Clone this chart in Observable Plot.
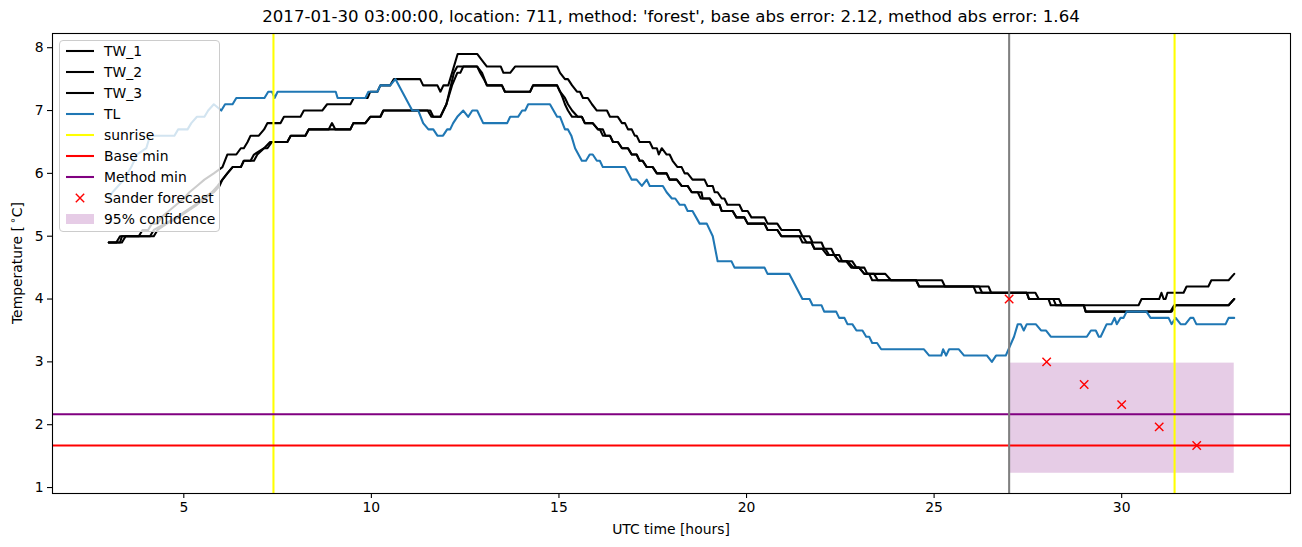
<!DOCTYPE html>
<html><head><meta charset="utf-8">
<script src="https://cdn.jsdelivr.net/npm/d3@7"></script>
<script src="https://cdn.jsdelivr.net/npm/@observablehq/plot@0.6"></script>
<style>
body{margin:0;background:#fff;font-family:"DejaVu Sans",sans-serif;}
#wrap{position:relative;width:1302px;height:547px;overflow:hidden;}
#title{position:absolute;left:52px;width:1238px;top:7px;text-align:center;font-size:16.6px;color:#000;white-space:nowrap;}
#chart{position:absolute;left:0;top:28px;}
#legend{position:absolute;left:59px;top:40px;width:161px;height:192px;background:rgba(255,255,255,0.8);border:1px solid #cccccc;border-radius:4px;box-sizing:border-box;}
.item{position:absolute;left:0;height:20px;width:160px;font-size:13.9px;line-height:20px;color:#000;white-space:nowrap;}
.item svg{position:absolute;left:4px;top:0;}
.item span{position:absolute;left:44px;top:0;}
</style></head><body>
<div id="wrap"><div id="title"></div><div id="chart"></div><div id="legend"></div></div>
<script>
const titleText = "2017-01-30 03:00:00, location: 711, method: 'forest', base abs error: 2.12, method abs error: 1.64";
const xLabel = "UTC time [hours]";
const xTicks = [5, 10, 15, 20, 25, 30];
const yTicks = [1, 2, 3, 4, 5, 6, 7, 8];

// [time (h), temperature (°C)] corner points
const tw1 = [[3.0,4.9],[3.3,4.9],[3.35,5.0],[3.8,5.0],[3.9,5.1],[4.05,5.1],[4.15,5.2],[4.3,5.2],[4.4,5.3],[4.6,5.4],[4.8,5.5],[5.0,5.6],[5.15,5.7],[5.35,5.8],[5.55,5.9],[5.8,6.0],[6.03,6.1],[6.16,6.3],[6.4,6.3],[6.52,6.4],[6.6,6.4],[6.7,6.5],[6.78,6.6],[7.0,6.6],[7.14,6.7],[7.23,6.8],[7.58,6.8],[7.67,6.9],[8.11,6.9],[8.2,7.0],[8.69,7.0],[8.82,7.1],[9.44,7.1],[9.53,7.2],[9.9,7.2],[9.97,7.3],[10.16,7.3],[10.24,7.4],[10.5,7.4],[10.6,7.5],[11.3,7.5],[11.38,7.4],[11.76,7.4],[11.84,7.3],[11.92,7.4],[12.05,7.4],[12.15,7.6],[12.3,7.9],[12.82,7.9],[12.95,7.8],[13.08,7.7],[13.45,7.7],[13.52,7.6],[13.7,7.6],[13.83,7.7],[14.95,7.7],[15.03,7.6],[15.16,7.5],[15.24,7.5],[15.35,7.4],[15.48,7.3],[15.56,7.3],[15.64,7.2],[15.77,7.2],[15.88,7.1],[16.01,7.0],[16.28,7.0],[16.36,6.9],[16.57,6.9],[16.68,6.8],[16.76,6.8],[16.84,6.7],[16.94,6.7],[17.02,6.6],[17.07,6.6],[17.15,6.5],[17.42,6.5],[17.5,6.4],[17.61,6.4],[17.66,6.3],[17.74,6.4],[17.87,6.3],[17.95,6.3],[18.03,6.2],[18.16,6.1],[18.27,6.1],[18.35,6.0],[18.43,6.0],[18.56,5.9],[18.88,5.9],[18.96,5.8],[19.1,5.8],[19.15,5.7],[19.23,5.7],[19.34,5.6],[19.41,5.6],[19.49,5.5],[19.81,5.5],[19.89,5.4],[20.03,5.4],[20.13,5.3],[20.48,5.3],[20.56,5.2],[20.82,5.2],[20.93,5.1],[21.41,5.1],[21.49,5.0],[21.68,5.0],[21.76,4.9],[22.0,4.9],[22.07,4.8],[22.26,4.8],[22.34,4.7],[22.47,4.7],[22.55,4.6],[22.82,4.6],[22.93,4.5],[23.14,4.5],[23.22,4.4],[23.7,4.4],[23.85,4.3],[25.21,4.3],[25.29,4.2],[26.45,4.2],[26.52,4.1],[27.7,4.1],[27.79,4.0],[28.33,4.0],[28.4,3.9],[30.45,3.9],[30.53,4.0],[31.0,4.0],[31.06,4.1],[31.12,4.0],[31.17,4.0],[31.22,4.1],[31.65,4.1],[31.73,4.2],[32.31,4.2],[32.39,4.3],[32.85,4.3],[33.0,4.4]];
const tw2 = [[3.0,4.9],[3.35,4.9],[3.45,5.0],[4.2,5.0],[4.3,5.1],[4.55,5.2],[4.85,5.3],[5.1,5.4],[5.35,5.5],[5.55,5.6],[5.8,5.7],[5.95,5.8],[6.03,5.9],[6.16,6.0],[6.3,6.1],[6.52,6.1],[6.6,6.2],[6.87,6.2],[6.96,6.3],[7.14,6.4],[7.3,6.5],[7.76,6.5],[7.85,6.6],[8.24,6.6],[8.33,6.7],[9.44,6.7],[9.52,6.8],[9.84,6.8],[9.97,6.9],[10.24,6.9],[10.32,7.0],[11.57,7.0],[11.65,6.9],[11.84,6.9],[12.0,7.1],[12.15,7.4],[12.29,7.6],[12.37,7.6],[12.45,7.7],[12.82,7.7],[12.95,7.6],[13.08,7.4],[13.48,7.4],[13.56,7.3],[14.23,7.3],[14.31,7.4],[14.95,7.4],[15.03,7.3],[15.16,7.2],[15.24,7.1],[15.35,7.0],[15.5,6.9],[15.61,6.9],[15.69,6.8],[15.9,6.8],[16.04,6.7],[16.09,6.7],[16.17,6.6],[16.36,6.6],[16.44,6.5],[16.57,6.5],[16.68,6.4],[16.84,6.4],[16.94,6.3],[17.07,6.3],[17.15,6.2],[17.23,6.2],[17.34,6.1],[17.5,6.1],[17.61,6.0],[17.87,6.0],[17.95,5.9],[18.14,5.9],[18.27,5.8],[18.43,5.8],[18.54,5.7],[18.8,5.7],[18.83,5.6],[19.02,5.6],[19.15,5.5],[19.28,5.5],[19.34,5.4],[19.63,5.4],[19.73,5.3],[19.94,5.3],[20.03,5.2],[20.48,5.2],[20.56,5.1],[20.82,5.1],[20.93,5.0],[21.41,5.0],[21.49,4.9],[21.73,4.9],[21.81,4.8],[22.02,4.8],[22.15,4.7],[22.34,4.7],[22.47,4.6],[22.66,4.6],[22.79,4.5],[23.0,4.5],[23.14,4.4],[23.27,4.4],[23.35,4.3],[24.52,4.3],[24.6,4.2],[26.05,4.2],[26.12,4.1],[27.47,4.1],[27.53,4.0],[28.05,4.0],[28.11,3.9],[28.99,3.9],[29.04,3.8],[31.33,3.8],[31.44,3.9],[32.85,3.9],[33.0,4.0]];
const tw3 = [[3.0,4.9],[3.2,4.9],[3.3,5.0],[4.1,5.0],[4.2,5.1],[4.5,5.2],[4.8,5.3],[5.05,5.4],[5.3,5.5],[5.5,5.6],[5.75,5.7],[5.9,5.8],[6.03,5.9],[6.16,6.0],[6.3,6.1],[6.52,6.1],[6.6,6.2],[6.78,6.2],[6.87,6.3],[7.14,6.4],[7.23,6.4],[7.35,6.5],[7.76,6.5],[7.85,6.6],[8.24,6.6],[8.33,6.7],[8.86,6.7],[8.95,6.8],[9.04,6.7],[9.44,6.7],[9.52,6.8],[9.84,6.8],[9.97,6.9],[10.24,6.9],[10.32,7.0],[11.5,7.0],[11.6,6.9],[11.84,6.9],[12.0,7.1],[12.12,7.4],[12.2,7.6],[12.29,7.7],[12.82,7.7],[12.9,7.6],[13.0,7.5],[13.08,7.4],[13.48,7.4],[13.56,7.3],[14.23,7.3],[14.31,7.4],[14.95,7.4],[15.03,7.3],[15.1,7.2],[15.16,7.1],[15.24,7.0],[15.35,6.9],[15.61,6.9],[15.69,6.8],[15.9,6.8],[16.04,6.7],[16.17,6.7],[16.24,6.6],[16.36,6.6],[16.44,6.5],[16.57,6.5],[16.68,6.4],[16.84,6.4],[16.94,6.3],[17.07,6.3],[17.15,6.2],[17.23,6.2],[17.34,6.1],[17.5,6.1],[17.61,6.0],[17.87,6.0],[17.95,5.9],[18.14,5.9],[18.27,5.8],[18.43,5.8],[18.54,5.7],[18.7,5.7],[18.78,5.6],[19.02,5.6],[19.1,5.5],[19.28,5.5],[19.34,5.4],[19.63,5.4],[19.73,5.3],[19.94,5.3],[20.03,5.2],[20.48,5.2],[20.56,5.1],[20.82,5.1],[20.93,5.0],[21.5,5.0],[21.6,4.9],[21.73,4.9],[21.81,4.8],[22.1,4.8],[22.2,4.7],[22.34,4.7],[22.47,4.6],[22.7,4.6],[22.85,4.5],[23.0,4.5],[23.14,4.4],[23.4,4.4],[23.5,4.3],[24.52,4.3],[24.6,4.2],[26.2,4.2],[26.28,4.1],[27.47,4.1],[27.53,4.0],[28.18,4.0],[28.25,3.9],[28.99,3.9],[29.04,3.8],[31.3,3.8],[31.4,3.9],[32.85,3.9],[33.0,4.0]];
const tl = [[3.0,5.6],[3.1,5.7],[3.25,5.8],[3.4,5.9],[3.6,6.1],[3.75,6.3],[4.0,6.4],[4.1,6.6],[4.75,6.6],[4.85,6.7],[5.1,6.7],[5.2,6.8],[5.35,6.9],[5.55,6.9],[5.65,7.0],[5.8,7.1],[6.0,7.0],[6.1,7.1],[6.3,7.1],[6.4,7.2],[7.15,7.2],[7.25,7.3],[7.35,7.3],[7.42,7.2],[7.5,7.3],[9.05,7.3],[9.1,7.2],[9.84,7.2],[9.92,7.3],[10.16,7.3],[10.24,7.4],[10.5,7.4],[10.64,7.5],[11.09,7.0],[11.25,7.0],[11.38,6.8],[11.52,6.7],[11.65,6.7],[11.76,6.6],[11.91,6.6],[12.02,6.7],[12.1,6.7],[12.18,6.8],[12.29,6.9],[12.45,7.0],[12.58,6.9],[12.69,7.0],[12.82,7.0],[12.98,6.8],[13.62,6.8],[13.7,6.9],[13.91,6.9],[14.02,7.0],[14.1,7.0],[14.18,7.1],[14.76,7.1],[14.95,6.9],[15.03,6.9],[15.16,6.7],[15.24,6.7],[15.33,6.6],[15.43,6.4],[15.61,6.2],[15.72,6.2],[15.82,6.3],[15.9,6.3],[16.01,6.2],[16.09,6.2],[16.17,6.1],[16.76,6.1],[16.94,5.9],[17.07,5.9],[17.21,5.8],[17.34,5.9],[17.42,5.8],[17.77,5.8],[17.87,5.7],[18.01,5.6],[18.1,5.6],[18.22,5.5],[18.35,5.5],[18.43,5.4],[18.56,5.4],[18.75,5.2],[18.94,5.2],[19.1,5.0],[19.23,4.6],[19.6,4.6],[19.68,4.5],[20.48,4.5],[20.56,4.4],[21.14,4.4],[21.49,4.0],[21.68,4.0],[21.76,3.9],[22.0,3.9],[22.07,3.8],[22.39,3.8],[22.47,3.7],[22.61,3.7],[22.69,3.6],[22.82,3.6],[22.93,3.5],[23.09,3.5],[23.19,3.4],[23.27,3.4],[23.35,3.3],[23.48,3.3],[23.59,3.2],[24.73,3.2],[24.87,3.1],[25.19,3.1],[25.24,3.2],[25.32,3.1],[25.4,3.2],[25.66,3.2],[25.8,3.1],[26.41,3.1],[26.54,3.0],[26.65,3.1],[26.91,3.1],[27.13,3.4],[27.23,3.6],[27.31,3.6],[27.39,3.5],[27.47,3.6],[27.71,3.6],[27.85,3.5],[27.98,3.5],[28.11,3.4],[29.07,3.4],[29.18,3.5],[29.31,3.5],[29.39,3.4],[29.44,3.4],[29.6,3.6],[29.73,3.6],[29.81,3.7],[29.87,3.6],[29.97,3.7],[30.05,3.7],[30.13,3.8],[30.66,3.8],[30.77,3.7],[31.25,3.7],[31.33,3.6],[31.44,3.7],[31.57,3.6],[31.7,3.6],[31.83,3.7],[31.91,3.7],[31.99,3.6],[32.77,3.6],[32.85,3.7],[33.0,3.7]];

const sunrise = [7.39, 31.41];
const forecastStart = [27.0];
const baseMin = [1.668];
const methodMin = [2.165];
const forecastT = [27, 28, 29, 30, 31, 32];
const forecastV = [4.0, 3.0, 2.64, 2.32, 1.965, 1.668];
const bandX = [27.0, 33.0];
const bandY = [1.227, 2.98];

const legendLabels = ["TW_1", "TW_2", "TW_3", "TL", "sunrise", "Base min", "Method min", "Sander forecast", "95% confidence"];
const legendKinds = ["line", "line", "line", "line", "line", "line", "line", "x", "patch"];
const legendColors = ["black", "black", "black", "#1f77b4", "yellow", "red", "purple", "red", "purple"];

const LW = 2.08; // 1.5 pt at 100 dpi
const toRows = arr => arr.map(([t, v]) => ({t, v}));
const forecast = forecastT.map((t, i) => ({t, v: forecastV[i]}));
const band = [{x1: bandX[0], x2: bandX[1], y1: bandY[0], y2: bandY[1]}];

document.getElementById("title").textContent = titleText;

const chart = Plot.plot({
  width: 1302, height: 519,
  marginTop: 5, marginBottom: 54, marginLeft: 52, marginRight: 12,
  style: {fontFamily: "DejaVu Sans", fontSize: "13.9px", color: "black", background: "white"},
  x: {domain: [1.5, 34.5]},
  y: {domain: [0.905, 8.226]},
  marks: [
    Plot.rect(band, {x1: "x1", x2: "x2", y1: "y1", y2: "y2", fill: "purple", fillOpacity: 0.2}),
    Plot.line(toRows(tw1), {x: "t", y: "v", stroke: "black", strokeWidth: LW}),
    Plot.line(toRows(tw2), {x: "t", y: "v", stroke: "black", strokeWidth: LW}),
    Plot.line(toRows(tw3), {x: "t", y: "v", stroke: "black", strokeWidth: LW}),
    Plot.line(toRows(tl), {x: "t", y: "v", stroke: "#1f77b4", strokeWidth: LW}),
    Plot.ruleX(sunrise, {stroke: "yellow", strokeWidth: LW}),
    Plot.ruleY(baseMin, {stroke: "red", strokeWidth: LW}),
    Plot.ruleY(methodMin, {stroke: "purple", strokeWidth: LW}),
    Plot.ruleX(forecastStart, {stroke: "grey", strokeWidth: LW}),
    Plot.dot(forecast, {x: "t", y: "v", symbol: "times", r: 3.9, stroke: "red", strokeWidth: 1.4}),
    Plot.frame({stroke: "black", strokeWidth: 1.1}),
    Plot.axisX({ticks: xTicks, tickSize: 5, tickPadding: 4, strokeWidth: 1.1, label: null}),
    Plot.axisY({ticks: yTicks, tickSize: 5, tickPadding: 4, strokeWidth: 1.1, label: null})
  ]
});
document.getElementById("chart").appendChild(chart);

// axis titles
const svg = d3.select(chart);
const xr = chart.scale("x").range, yr = chart.scale("y").range;
svg.append("text").attr("x", (xr[0] + xr[1]) / 2).attr("y", 502)
  .attr("text-anchor", "middle").attr("dominant-baseline", "middle")
  .attr("font-size", "13.9px").attr("fill", "black").text(xLabel);
const yl = svg.append("text").attr("transform", `translate(18,${(yr[0] + yr[1]) / 2}) rotate(-90)`)
  .attr("text-anchor", "middle").attr("dominant-baseline", "middle")
  .attr("font-size", "13.9px").attr("fill", "black");
yl.append("tspan").text("Temperature [\u2009");
yl.append("tspan").attr("font-size", "10px").attr("dy", "-5").text("\u2218");
yl.append("tspan").attr("dy", "5").text("C]");

// legend
const legend = d3.select("#legend");
legendLabels.forEach((lab, i) => {
  const item = legend.append("div").attr("class", "item").style("top", (i * 21) + "px");
  const s = item.append("svg").attr("width", 32).attr("height", 20);
  if (legendKinds[i] === "line") {
    s.append("line").attr("x1", 2).attr("x2", 30).attr("y1", 10).attr("y2", 10)
      .attr("stroke", legendColors[i]).attr("stroke-width", LW);
  } else if (legendKinds[i] === "x") {
    s.append("path").attr("d", "M11.8,5.8L20.2,14.2M11.8,14.2L20.2,5.8")
      .attr("stroke", legendColors[i]).attr("stroke-width", 1.4).attr("fill", "none");
  } else {
    s.append("rect").attr("x", 2).attr("y", 5).attr("width", 28).attr("height", 10)
      .attr("fill", legendColors[i]).attr("fill-opacity", 0.2);
  }
  item.append("span").text(lab);
});
</script>
</body></html>
